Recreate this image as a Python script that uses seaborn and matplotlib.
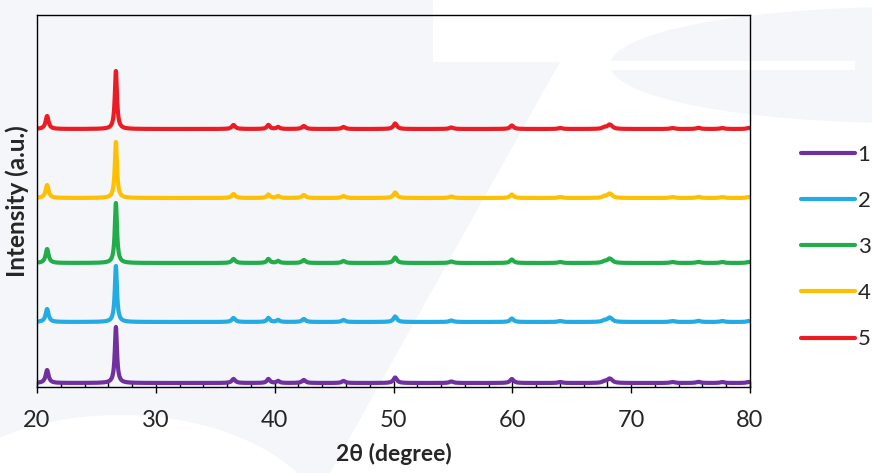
import numpy as np
import pandas as pd
import matplotlib
matplotlib.use("Agg")
import matplotlib.pyplot as plt
from matplotlib.patches import Polygon, Ellipse, Rectangle
from matplotlib.ticker import MultipleLocator
import seaborn as sns

# ---------------- data ----------------
series_names = ["1", "2", "3", "4", "5"]
series_colors = ["#7030a0", "#22ace3", "#22ad4a", "#ffc000", "#ec1c24"]
# vertical offset (baseline) of each pattern, arbitrary units
baselines = [4, 65, 124, 189, 258]

# peak positions (2theta, degree) and widths (FWHM, degree)
peak_pos = [20.85, 26.64, 36.54, 39.47, 40.29, 42.45, 45.79, 50.14, 54.87,
            59.96, 64.03, 67.74, 68.14, 68.31, 73.46, 75.66, 77.67, 79.88]
peak_fwhm = [0.30, 0.22, 0.35, 0.30, 0.30, 0.35, 0.35, 0.35, 0.40,
             0.35, 0.40, 0.40, 0.40, 0.40, 0.40, 0.40, 0.40, 0.40]
# peak heights above baseline for each series
heights_1 = [13, 56, 4.0, 4.0, 2.0, 3.0, 2.0, 5.5, 1.5, 4.0, 1.0, 1.5, 3.0, 2.0, 1.0, 1.2, 1.0, 1.0]
heights_2 = [13, 56, 4.0, 4.0, 2.0, 3.0, 2.0, 5.5, 1.5, 3.5, 1.0, 1.5, 3.0, 2.0, 1.0, 1.2, 1.0, 1.0]
heights_3 = [14, 60, 4.0, 4.0, 2.0, 3.0, 2.0, 5.5, 1.5, 3.5, 1.0, 1.5, 3.0, 2.0, 1.0, 1.2, 1.0, 1.0]
heights_4 = [13, 56, 4.0, 3.5, 2.0, 3.0, 2.0, 5.5, 1.5, 3.5, 1.0, 1.5, 3.0, 2.0, 1.0, 1.2, 1.0, 1.0]
heights_5 = [13, 58, 4.0, 4.0, 2.0, 3.0, 2.0, 5.5, 1.5, 3.5, 1.0, 1.5, 3.0, 2.0, 1.0, 1.2, 1.0, 1.0]
all_heights = [heights_1, heights_2, heights_3, heights_4, heights_5]

x_ticks = [20, 30, 40, 50, 60, 70, 80]

# ---------------- build long-form table from peak lists ----------------
two_theta = np.linspace(20, 80, 3001)
rows = []
for name, base, hts in zip(series_names, baselines, all_heights):
    y = np.full_like(two_theta, float(base))
    for p, w, h in zip(peak_pos, peak_fwhm, hts):
        g = w / 2.0
        y += h * g**2 / ((two_theta - p) ** 2 + g**2)
    rows.append(pd.DataFrame({"two_theta": two_theta, "intensity": y, "sample": name}))
df = pd.concat(rows, ignore_index=True)

# ---------------- figure ----------------
sns.set_theme(style="white")
plt.rcParams["font.family"] = ["Lato", "DejaVu Sans"]

W, H = 872, 473
fig = plt.figure(figsize=(W / 100, H / 100), dpi=100)
bg = "#f4f6fa"
fig.patch.set_facecolor(bg)

def fx(px):
    return px / W

def fy(py):
    return 1 - py / H

# background watermark shapes
fig.patches.append(Polygon(
    [(fx(433), fy(0)), (fx(872), fy(0)), (fx(872), fy(473)), (fx(330), fy(473)),
     (fx(560), fy(62)), (fx(433), fy(62))],
    closed=True, transform=fig.transFigure, facecolor="white", edgecolor="none", zorder=-10))
fig.patches.append(Ellipse((fx(905), fy(65)), 590 / W, 116 / H,
                           transform=fig.transFigure, facecolor=bg, edgecolor="none", zorder=-9))
fig.patches.append(Rectangle((fx(610), fy(70)), 245 / W, 9 / H,
                             transform=fig.transFigure, facecolor="white", edgecolor="none", zorder=-8))
fig.patches.append(Ellipse((fx(120), fy(540)), 420 / W, 250 / H,
                           transform=fig.transFigure, facecolor="white", edgecolor="none", zorder=-8))

ax = fig.add_axes([fx(37), fy(387), (750 - 37) / W, (387 - 15) / H])
ax.set_facecolor("none")

sns.lineplot(data=df, x="two_theta", y="intensity", hue="sample",
             palette=series_colors, hue_order=series_names, linewidth=3.0,
             ax=ax, legend=True, sort=False, estimator=None)

ax.set_xlim(20, 80)
ax.set_ylim(0, 372)
ax.set_xticks(x_ticks)
ax.set_xticklabels([str(t) for t in x_ticks])
ax.xaxis.set_minor_locator(MultipleLocator(2))
ax.set_yticks([])
ax.tick_params(axis="x", which="major", direction="inout", length=9, width=1,
               color="black", labelsize=17, pad=12, bottom=True)
ax.tick_params(axis="x", which="minor", direction="in", length=4, width=1,
               color="black", bottom=True)
for s in ax.spines.values():
    s.set_color("black")
    s.set_linewidth(1.0)

ax.set_xlabel("2θ (degree)", fontsize=16.5, fontweight="bold", labelpad=9)
ax.set_ylabel("Intensity (a.u.)", fontsize=17.5, fontweight="bold", labelpad=6)

handles, labels = ax.get_legend_handles_labels()
ax.get_legend().remove()
leg = fig.legend(handles, labels, loc="center left",
                 bbox_to_anchor=(fx(801), fy(247)), frameon=False,
                 fontsize=16, handlelength=2.45, handletextpad=0.1,
                 labelspacing=1.18, borderaxespad=0, borderpad=0)
for l in leg.get_lines():
    l.set_linewidth(3.0)

fig.savefig("out.png", dpi=100, facecolor=fig.get_facecolor())
